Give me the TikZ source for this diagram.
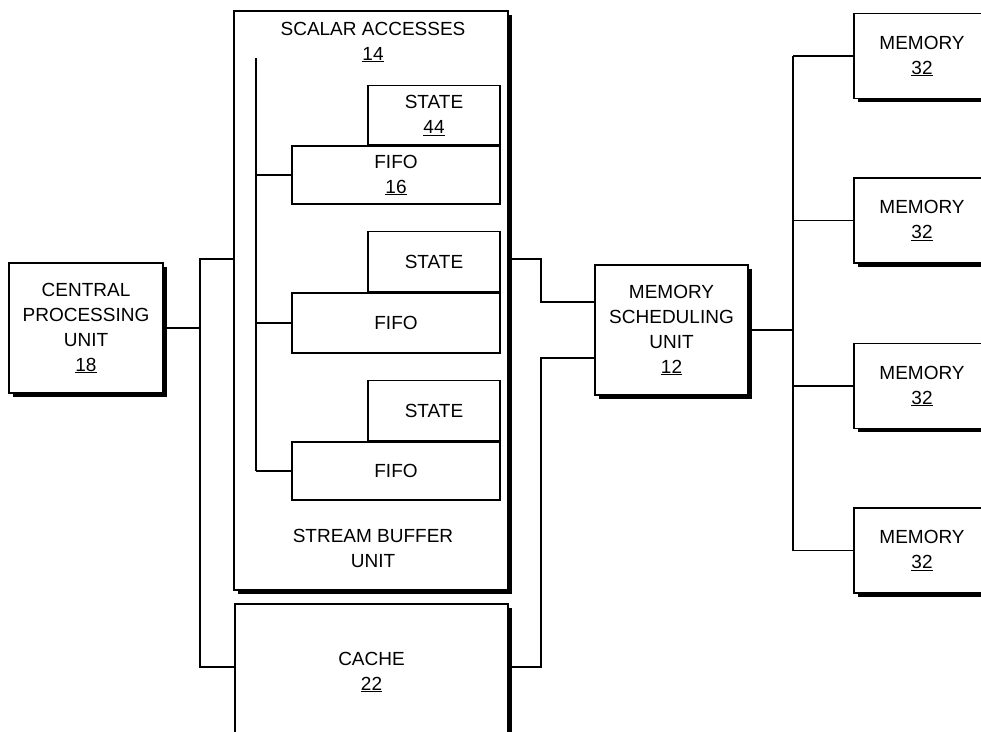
\documentclass[tikz,border=0pt]{standalone}
\usepackage{fontspec}
\setmainfont{Liberation Sans}
\usepackage{tikz}
\usetikzlibrary{positioning,shadows}
\tikzset{blk/.style={draw, line width=1.3pt, fill=white, inner sep=0pt, align=center,
    drop shadow={shadow xshift=3.5pt, shadow yshift=-3.5pt, fill=black, opacity=1}}}
\tikzset{sub/.style={draw, line width=1.2pt, fill=white, inner sep=0pt, align=center}}
\tikzset{wire/.style={line width=1.3pt}}

\begin{document}
\begin{tikzpicture}[x=1pt, y=-1pt, font=\fontsize{19}{25}\selectfont]
\useasboundingbox (0,0) rectangle (981,731);
\clip (0,0) rectangle (981,731);
% main blocks
\node[blk, minimum width=154pt, minimum height=130pt] (cpu) at (86,328) {CENTRAL\\PROCESSING\\UNIT\\\underline{18}};
\node[blk, minimum width=274pt, minimum height=579pt] (sbu) at (371,300.5) {};
\node[blk, minimum width=273pt, minimum height=136pt] (cache) at (371.5,672) {CACHE\\\underline{22}};
\node[blk, minimum width=153pt, minimum height=130pt] (msu) at (671.5,330) {MEMORY\\SCHEDULING\\UNIT\\\underline{12}};
\foreach \i/\y in {1/56, 2/220.5, 3/386, 4/550.5}
  \node[blk, minimum width=136pt, minimum height=85pt] (mem\i) at (922,\y) {MEMORY\\\underline{32}};
% stream buffer contents
\node (scalar) at (373,42) [align=center] {SCALAR ACCESSES\\\underline{14}};
\node (sbuname) at (373,548) [align=center] {STREAM BUFFER\\UNIT};
\node[sub, minimum width=208pt, minimum height=58pt] (fifo1) at (396,175) {FIFO\\\underline{16}};
\node[sub, minimum width=208pt, minimum height=60pt] (fifo2) at (396,323) {FIFO};
\node[sub, minimum width=208pt, minimum height=58pt] (fifo3) at (396,471) {FIFO};
\node[sub, minimum width=132pt, minimum height=59pt, anchor=south east] (state1) at (fifo1.north east) {STATE\\\underline{44}};
\node[sub, minimum width=132pt, minimum height=60pt, anchor=south east] (state2) at (fifo2.north east) {STATE};
\node[sub, minimum width=132pt, minimum height=60pt, anchor=south east] (state3) at (fifo3.north east) {STATE};
\coordinate (fbus) at (256,58);
\draw[wire] (fbus) -- (fbus |- fifo3.west);
\foreach \i in {1,2,3} \draw[wire] (fifo\i.west) -- (fifo\i.west -| fbus);
% cpu side
\coordinate (lbusT) at (200,259);
\coordinate (lbusB) at (200,667);
\draw[wire] (sbu.west |- lbusT) -- (lbusT) -- (lbusB) -- (cache.west |- lbusB);
\draw[wire] (cpu.east) -- (cpu.east -| lbusT);
% scheduler side
\coordinate (rbusT) at (541,302);
\coordinate (rbusB) at (541,358);
\draw[wire] (sbu.east |- lbusT) -| (rbusT) -- (msu.west |- rbusT);
\draw[wire] (cache.east |- lbusB) -| (rbusB) -- (msu.west |- rbusB);
% memory bus
\coordinate (mbus) at (793,331);
\draw[wire] (msu.east) -- (msu.east -| mbus);
\draw[wire] (mem1.west -| mbus) -- (mem4.west -| mbus);
\foreach \i in {1,...,4} \draw[wire] (mem\i.west) -- (mem\i.west -| mbus);
\end{tikzpicture}
\end{document}
